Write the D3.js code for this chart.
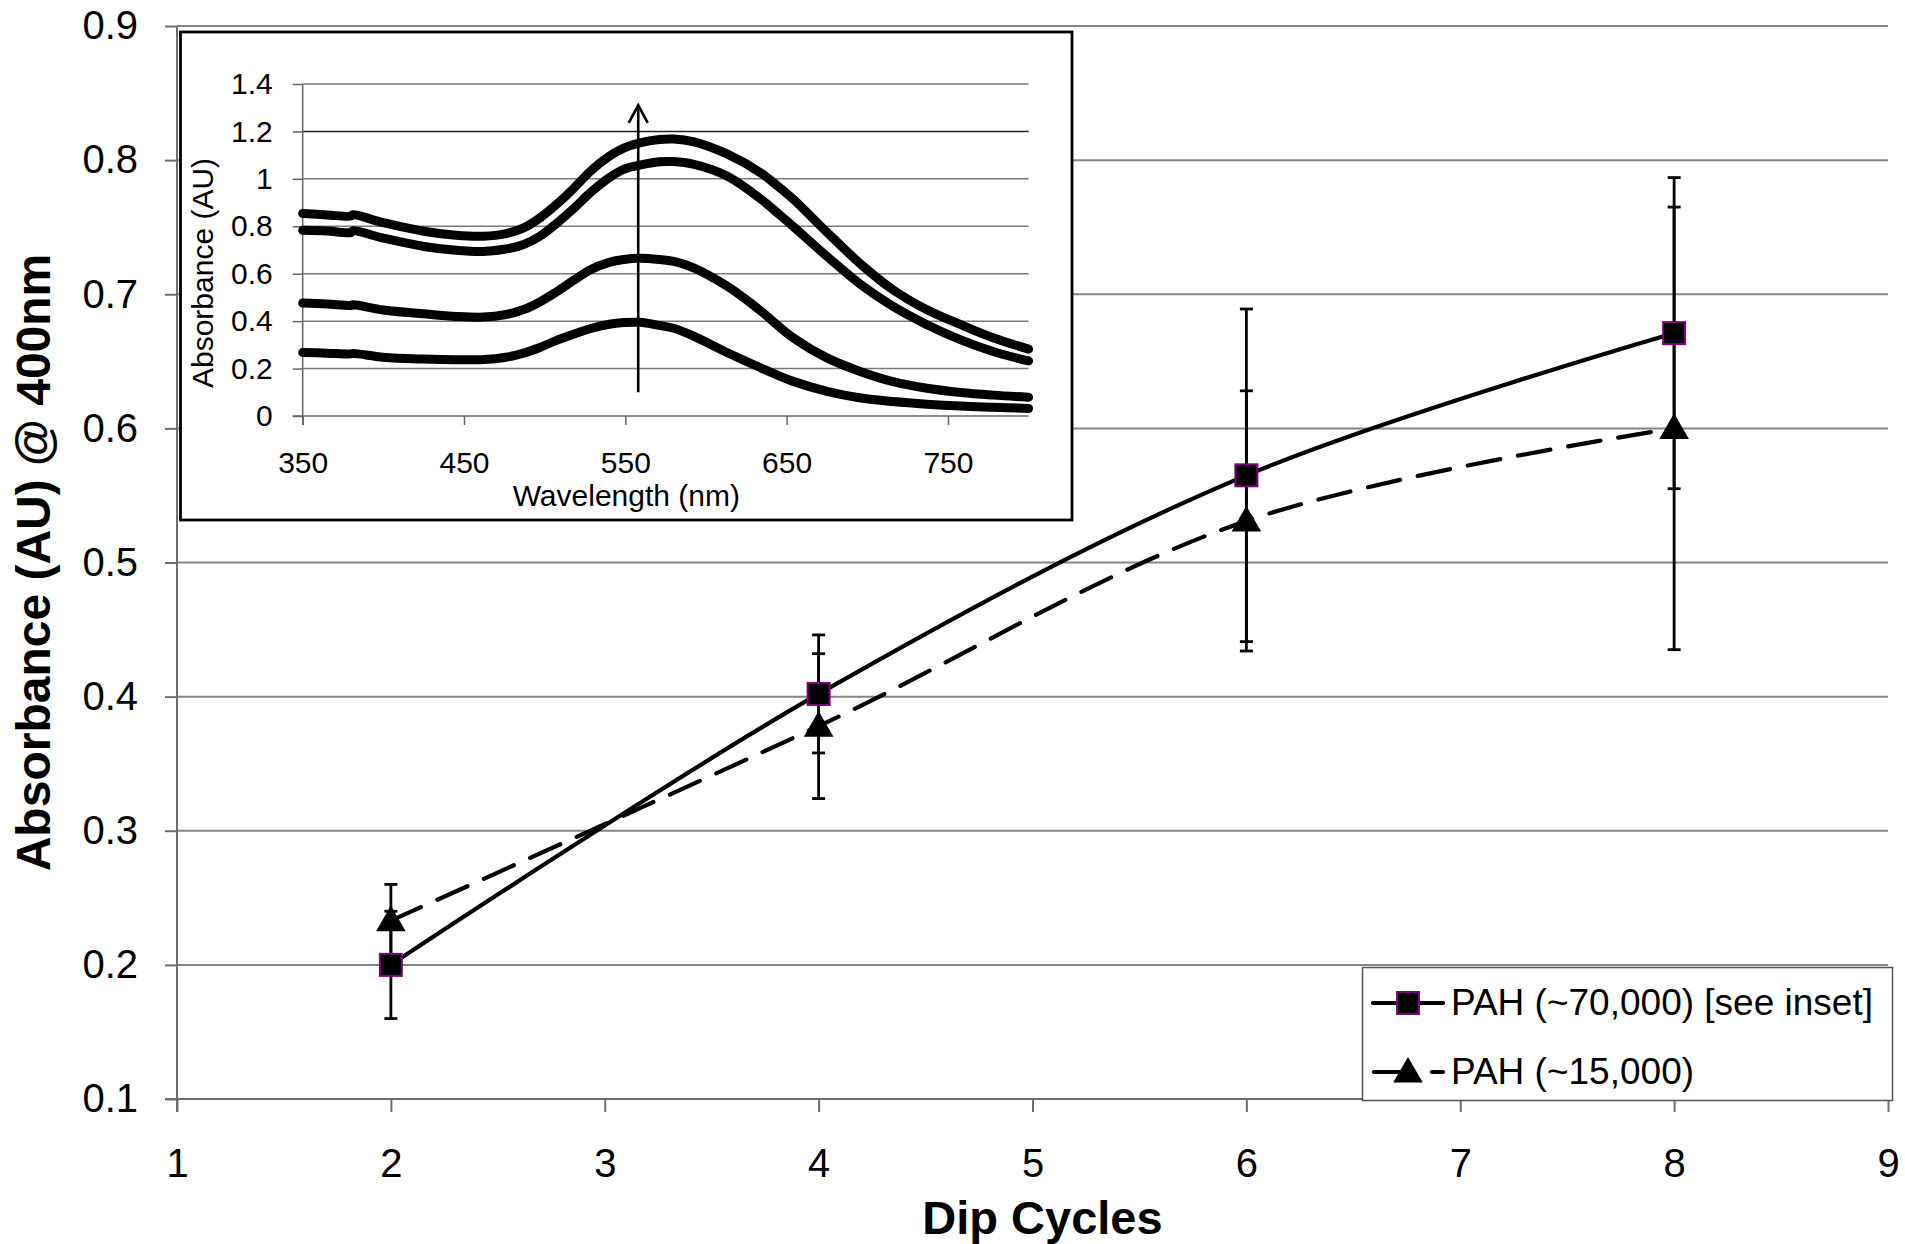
<!DOCTYPE html>
<html>
<head>
<meta charset="utf-8">
<script src="https://cdn.jsdelivr.net/npm/d3@7"></script>
<style>
  html, body { margin: 0; padding: 0; background: #fff; }
  svg { display: block; font-family: "Liberation Sans", Arial, sans-serif; }
</style>
</head>
<body>
<svg id="chart" width="1905" height="1244"></svg>
<script>
// ---------------- Main chart data ----------------
const dipCycles = [2, 4, 6, 8];
const pah70k = [0.200, 0.402, 0.565, 0.671];
const pah70kErr = [0.040, 0.044, 0.124, 0.116];
const pah15k = [0.233, 0.378, 0.531, 0.600];
const pah15kErr = [0.027, 0.054, 0.097, 0.165];
const xTicks = [1, 2, 3, 4, 5, 6, 7, 8, 9];
const yTicks = [0.1, 0.2, 0.3, 0.4, 0.5, 0.6, 0.7, 0.8, 0.9];
const seriesNames = ["PAH (~70,000) [see inset]", "PAH (~15,000)"];
const xTitle = "Dip Cycles";
const yTitle = "Absorbance (AU) @ 400nm";

// ---------------- Inset data ----------------
const wavelengths = [350, 365, 380, 381, 400, 425, 445, 462, 476, 487, 497, 507, 518, 528, 540, 549, 559, 571, 580, 592, 613, 634, 644, 654, 675, 696, 716, 737, 758, 778, 800];
const spectrum4 = [0.854, 0.848, 0.843, 0.849, 0.815, 0.779, 0.762, 0.758, 0.769, 0.793, 0.835, 0.890, 0.960, 1.030, 1.095, 1.130, 1.152, 1.166, 1.168, 1.157, 1.105, 1.025, 0.972, 0.915, 0.775, 0.640, 0.532, 0.448, 0.385, 0.330, 0.282];
const spectrum3 = [0.783, 0.780, 0.774, 0.781, 0.750, 0.715, 0.699, 0.694, 0.704, 0.723, 0.758, 0.810, 0.875, 0.940, 1.005, 1.040, 1.058, 1.072, 1.073, 1.062, 1.012, 0.915, 0.858, 0.800, 0.673, 0.554, 0.462, 0.385, 0.321, 0.272, 0.232];
const spectrum2 = [0.476, 0.472, 0.466, 0.469, 0.447, 0.431, 0.420, 0.417, 0.428, 0.449, 0.481, 0.522, 0.572, 0.616, 0.648, 0.660, 0.665, 0.660, 0.652, 0.626, 0.548, 0.443, 0.385, 0.330, 0.245, 0.187, 0.145, 0.117, 0.099, 0.088, 0.079];
const spectrum1 = [0.268, 0.265, 0.262, 0.264, 0.248, 0.240, 0.237, 0.238, 0.248, 0.265, 0.289, 0.318, 0.345, 0.368, 0.387, 0.394, 0.395, 0.382, 0.370, 0.338, 0.268, 0.203, 0.173, 0.146, 0.104, 0.076, 0.061, 0.050, 0.042, 0.037, 0.032];
const insetXTicks = [350, 450, 550, 650, 750];
const insetYTicks = [0, 0.2, 0.4, 0.6, 0.8, 1, 1.2, 1.4];
const arrowWavelength = 558;
const arrowFrom = 0.10;
const arrowTo = 1.31;
const insetXTitle = "Wavelength (nm)";
const insetYTitle = "Absorbance (AU)";

// ---------------- Drawing ----------------
const svg = d3.select("#chart");
const plot = { left: 177, right: 1888, top: 26, bottom: 1099 };

const x = d3.scaleLinear().domain([1, 9]).range([plot.left, plot.right]);
const y = d3.scaleLinear().domain([0.1, 0.9]).range([plot.bottom, plot.top]);

const gridColor = "#858585";
const axisColor = "#6e6e6e";
const FONT = "Liberation Sans, Arial, sans-serif";

// Gridlines
svg.append("g").selectAll("line").data(yTicks.filter(t => t > 0.1)).join("line")
  .attr("x1", plot.left).attr("x2", plot.right)
  .attr("y1", d => y(d)).attr("y2", d => y(d))
  .attr("stroke", gridColor).attr("stroke-width", 2);

// Y axis
const yAxis = d3.axisLeft(y).tickValues(yTicks).tickFormat(d3.format(".1f")).tickSize(12).tickPadding(27);
const gy = svg.append("g").attr("transform", `translate(${plot.left},0)`).call(yAxis);
gy.select(".domain").attr("stroke", axisColor).attr("stroke-width", 2)
  .attr("d", `M0,${plot.top}V${plot.bottom + 13}`);
gy.selectAll(".tick line").attr("stroke", axisColor).attr("stroke-width", 2);
gy.selectAll(".tick text").attr("font-size", 40).attr("fill", "#000").attr("font-family", FONT);

// X axis
const xAxis = d3.axisBottom(x).tickValues(xTicks).tickFormat(d3.format("d")).tickSize(13).tickPadding(37);
const gx = svg.append("g").attr("transform", `translate(0,${plot.bottom})`).call(xAxis);
gx.select(".domain").attr("stroke", axisColor).attr("stroke-width", 2)
  .attr("d", `M${plot.left - 12},0H${plot.right}`);
gx.selectAll(".tick line").attr("stroke", axisColor).attr("stroke-width", 2);
gx.selectAll(".tick text").attr("font-size", 40).attr("fill", "#000").attr("font-family", FONT);

// Axis titles
svg.append("text").attr("x", (plot.left + plot.right) / 2 + 10).attr("y", 1234)
  .attr("text-anchor", "middle").attr("font-size", 47).attr("font-weight", "bold")
  .text(xTitle);
svg.append("text").attr("transform", `translate(50,${(plot.top + plot.bottom) / 2}) rotate(-90)`)
  .attr("text-anchor", "middle").attr("font-size", 48).attr("font-weight", "bold")
  .text(yTitle);

// ---------------- Inset ----------------
const box = { left: 180.5, top: 32, right: 1072, bottom: 520 };
svg.append("rect").attr("x", box.left).attr("y", box.top)
  .attr("width", box.right - box.left).attr("height", box.bottom - box.top)
  .attr("fill", "#fff").attr("stroke", "#000").attr("stroke-width", 2.8);

const ix = d3.scaleLinear().domain([350, 800]).range([302.7, 1028.6]);
const iy = d3.scaleLinear().domain([0, 1.4]).range([416, 84]);

const ig = svg.append("g");
ig.selectAll("line.grid").data(insetYTicks.filter(t => t > 0)).join("line")
  .attr("class", "grid")
  .attr("x1", ix(350)).attr("x2", ix(800))
  .attr("y1", d => iy(d)).attr("y2", d => iy(d))
  .attr("stroke", d => d === 1.2 ? "#222" : "#7a7a7a").attr("stroke-width", 1.5);

const iyAxis = d3.axisLeft(iy).tickValues(insetYTicks).tickFormat(d => d3.format("~g")(d)).tickSize(10).tickPadding(20);
const igy = ig.append("g").attr("transform", `translate(${ix(350)},0)`).call(iyAxis);
igy.select(".domain").attr("stroke", "#666").attr("stroke-width", 1.5)
  .attr("d", `M0,${iy(1.4)}V${iy(0) + 9}`);
igy.selectAll(".tick line").attr("stroke", "#666").attr("stroke-width", 1.5);
igy.selectAll(".tick text").attr("font-size", 30).attr("fill", "#000").attr("font-family", FONT);

const ixAxis = d3.axisBottom(ix).tickValues(insetXTicks).tickFormat(d3.format("d")).tickSize(9).tickPadding(27);
const igx = ig.append("g").attr("transform", `translate(0,${iy(0)})`).call(ixAxis);
igx.select(".domain").attr("stroke", "#666").attr("stroke-width", 1.5)
  .attr("d", `M${ix(350) - 10},0H${ix(800)}`);
igx.selectAll(".tick line").attr("stroke", "#666").attr("stroke-width", 1.5);
igx.selectAll(".tick text").attr("font-size", 30).attr("fill", "#000").attr("font-family", FONT);

ig.append("text").attr("x", ix(550) + 1).attr("y", 506)
  .attr("text-anchor", "middle").attr("font-size", 30).text(insetXTitle);
ig.append("text").attr("transform", `translate(213,273) rotate(-90)`)
  .attr("text-anchor", "middle").attr("font-size", 30).text(insetYTitle);

const spectra = [spectrum1, spectrum2, spectrum3, spectrum4];
const specLine = d3.line().x((d, i) => ix(wavelengths[i])).y(d => iy(d)).curve(d3.curveCatmullRom.alpha(0.5));
ig.selectAll("path.spec").data(spectra).join("path")
  .attr("class", "spec")
  .attr("d", d => specLine(d))
  .attr("fill", "none").attr("stroke", "#000").attr("stroke-width", 9)
  .attr("stroke-linecap", "round").attr("stroke-linejoin", "round");

// Arrow
const ax0 = ix(arrowWavelength);
ig.append("line").attr("x1", ax0).attr("x2", ax0)
  .attr("y1", iy(arrowFrom)).attr("y2", iy(arrowTo))
  .attr("stroke", "#000").attr("stroke-width", 2.6);
ig.append("path")
  .attr("d", `M${ax0 - 9.5},${iy(arrowTo) + 17.5}L${ax0},${iy(arrowTo)}L${ax0 + 9.5},${iy(arrowTo) + 17.5}`)
  .attr("fill", "none").attr("stroke", "#000").attr("stroke-width", 2.6);

// ---------------- Series ----------------
const seriesLine = d3.line().x((d, i) => x(dipCycles[i])).y(d => y(d)).curve(d3.curveCatmullRom.alpha(0.5));
const sg = svg.append("g");

function errorBars(vals, errs) {
  const g = sg.append("g");
  vals.forEach((v, i) => {
    const cx = x(dipCycles[i]);
    g.append("line").attr("x1", cx).attr("x2", cx).attr("y1", y(v - errs[i])).attr("y2", y(v + errs[i]))
      .attr("stroke", "#000").attr("stroke-width", 2.8);
    [v - errs[i], v + errs[i]].forEach(e => {
      g.append("line").attr("x1", cx - 6.5).attr("x2", cx + 6.5).attr("y1", y(e)).attr("y2", y(e))
        .attr("stroke", "#000").attr("stroke-width", 2.8);
    });
  });
}
errorBars(pah70k, pah70kErr);
errorBars(pah15k, pah15kErr);

sg.append("path").attr("d", seriesLine(pah15k))
  .attr("fill", "none").attr("stroke", "#000").attr("stroke-width", 4.2)
  .attr("stroke-dasharray", "33,18").attr("stroke-linecap", "round");
sg.append("path").attr("d", seriesLine(pah70k))
  .attr("fill", "none").attr("stroke", "#000").attr("stroke-width", 4.2);

const tri = d3.symbol().type(d3.symbolTriangle).size(380);
sg.selectAll("path.tri").data(pah15k).join("path")
  .attr("class", "tri")
  .attr("transform", (d, i) => `translate(${x(dipCycles[i])},${y(d) + 2})`)
  .attr("d", tri()).attr("fill", "#000");

sg.selectAll("rect.sq").data(pah70k).join("rect")
  .attr("class", "sq")
  .attr("x", (d, i) => x(dipCycles[i]) - 11).attr("y", d => y(d) - 11)
  .attr("width", 22).attr("height", 22)
  .attr("fill", "#000").attr("stroke", "#800080").attr("stroke-width", 2);

// ---------------- Legend ----------------
const lg = svg.append("g");
lg.append("rect").attr("x", 1362.5).attr("y", 967.5).attr("width", 530).attr("height", 133)
  .attr("fill", "#fff").attr("stroke", "#555").attr("stroke-width", 1.5);
const rows = [1003, 1072];
lg.append("line").attr("x1", 1373).attr("x2", 1443).attr("y1", rows[0]).attr("y2", rows[0])
  .attr("stroke", "#000").attr("stroke-width", 4.2).attr("stroke-linecap", "round");
lg.append("rect").attr("x", 1408 - 11).attr("y", rows[0] - 11).attr("width", 22).attr("height", 22)
  .attr("fill", "#000").attr("stroke", "#800080").attr("stroke-width", 2);
lg.append("line").attr("x1", 1374).attr("x2", 1443).attr("y1", rows[1]).attr("y2", rows[1])
  .attr("stroke", "#000").attr("stroke-width", 4.2)
  .attr("stroke-dasharray", "26,32,11,100").attr("stroke-linecap", "round");
lg.append("path").attr("transform", `translate(1408,${rows[1] + 2})`).attr("d", tri()).attr("fill", "#000");
lg.selectAll("text.lab").data(seriesNames).join("text")
  .attr("class", "lab")
  .attr("x", 1451).attr("y", (d, i) => rows[i] + 12)
  .attr("font-size", 37).attr("fill", "#000").text(d => d);
</script>
</body>
</html>
